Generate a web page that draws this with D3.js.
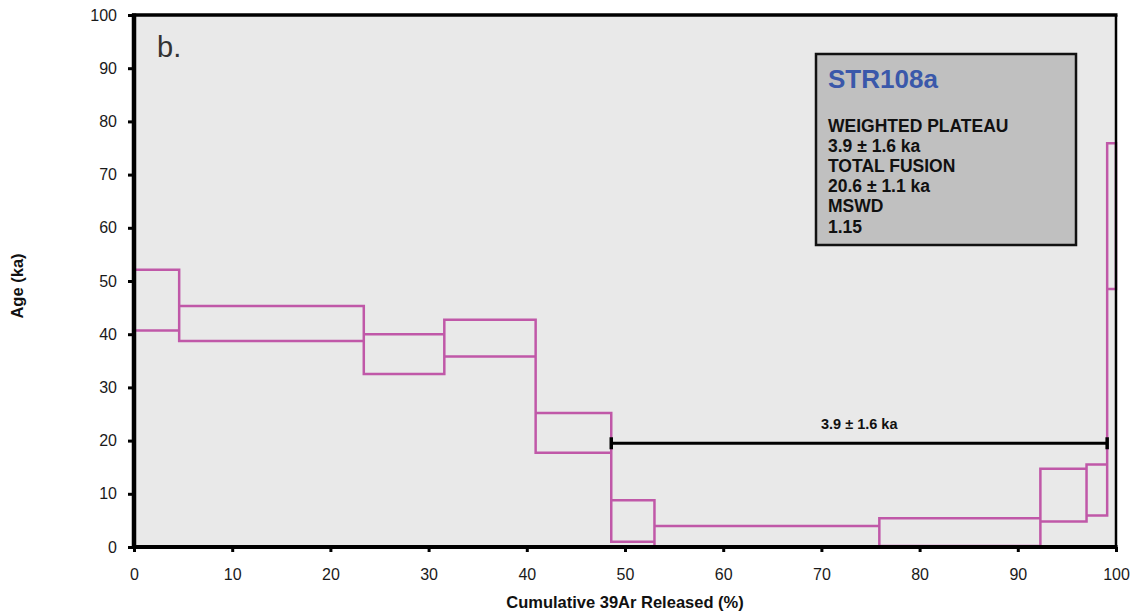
<!DOCTYPE html>
<html>
<head>
<meta charset="utf-8">
<script src="https://cdn.jsdelivr.net/npm/d3@7"></script>
<style>
  body { margin: 0; background: #fff; }
  text { font-family: "Liberation Sans", Arial, sans-serif; }
</style>
</head>
<body>
<div id="chart"></div>
<script>
// step edges (cumulative 39Ar %) and age envelope of each step (ka)
const stepEdges = [0, 4.6, 23.4, 31.6, 40.9, 48.6, 53.0, 75.9, 92.3, 97.0, 99.1, 100];
const ageHigh = [52.1, 45.3, 40.0, 42.7, 25.2, 8.8, 3.95, 5.4, 14.7, 15.5, 75.9];
const ageLow = [40.7, 38.7, 32.5, 35.8, 17.7, 1.0, -0.5, 0.2, 4.8, 5.9, 48.5];

// plateau
const plateauFrom = 48.6;
const plateauTo = 99.1;
const plateauAge = 19.5;
const plateauLabel = "3.9 ± 1.6 ka";

const xTicks = [0, 10, 20, 30, 40, 50, 60, 70, 80, 90, 100];
const yTicks = [0, 10, 20, 30, 40, 50, 60, 70, 80, 90, 100];

const legendLines = ["WEIGHTED PLATEAU", "3.9 ± 1.6 ka", "TOTAL FUSION", "20.6 ± 1.1 ka", "MSWD", "1.15"];

const width = 1132, height = 616;
const m = { left: 134, right: 16, top: 15, bottom: 69 };

const svg = d3.select('#chart').append('svg')
  .attr('width', width)
  .attr('height', height);

const x = d3.scaleLinear().domain([0, 100]).range([m.left, width - m.right]);
const y = d3.scaleLinear().domain([0, 100]).range([height - m.bottom, m.top]).clamp(true);

// fond gris
svg.append('rect')
  .attr('x', x(0)).attr('y', y(100))
  .attr('width', x(100) - x(0)).attr('height', y(0) - y(100))
  .attr('fill', '#e9e9e9');

// étapes : lignes haute/basse + verticales qui relient les étapes voisines
const steps = ageHigh.map((hi, i) => ({ x0: stepEdges[i], x1: stepEdges[i + 1], hi, lo: ageLow[i] }));
let p = d3.path();
steps.forEach(s => {
  p.moveTo(x(s.x0), y(s.hi)); p.lineTo(x(s.x1), y(s.hi));
  p.moveTo(x(s.x0), y(s.lo)); p.lineTo(x(s.x1), y(s.lo));
});
stepEdges.forEach((e, i) => {
  const near = steps.filter((s, j) => j === i - 1 || j === i);
  const top = d3.max(near, s => s.hi);
  const bot = d3.min(near, s => s.lo);
  p.moveTo(x(e), y(top)); p.lineTo(x(e), y(bot));
});
svg.append('path')
  .attr('d', p.toString())
  .attr('fill', 'none')
  .attr('stroke', '#c058a8')
  .attr('stroke-width', 2.5)
  .attr('stroke-linecap', 'square');

// barre du plateau
const pl = svg.append('g');
pl.append('line')
  .attr('x1', x(plateauFrom)).attr('x2', x(plateauTo))
  .attr('y1', y(plateauAge)).attr('y2', y(plateauAge))
  .attr('stroke', '#000').attr('stroke-width', 3);
pl.selectAll('.cap')
  .data([plateauFrom, plateauTo])
  .enter()
  .append('line')
  .attr('x1', d => x(d)).attr('x2', d => x(d))
  .attr('y1', y(plateauAge) - 6).attr('y2', y(plateauAge) + 6)
  .attr('stroke', '#000').attr('stroke-width', 3.5);
pl.append('text')
  .attr('x', (x(plateauFrom) + x(plateauTo)) / 2)
  .attr('y', y(plateauAge) - 14)
  .attr('text-anchor', 'middle')
  .attr('font-size', '14.5px')
  .attr('font-weight', 'bold')
  .attr('fill', '#111')
  .text(plateauLabel);

// axes
const yAxis = svg.append('g')
  .attr('transform', `translate(${x(0)},0)`)
  .call(d3.axisLeft(y).tickValues(yTicks).tickSize(6).tickSizeOuter(0).tickPadding(11));
const xAxis = svg.append('g')
  .attr('transform', `translate(0,${y(0)})`)
  .call(d3.axisBottom(x).tickValues(xTicks).tickSize(5).tickSizeOuter(0).tickPadding(17));
[yAxis, xAxis].forEach(a => {
  a.select('.domain').remove();
  a.selectAll('.tick line').attr('stroke', '#000').attr('stroke-width', 3);
  a.selectAll('.tick text')
    .attr('font-size', '16px')
    .attr('fill', '#1a1a1a')
    .attr('font-family', '"Liberation Sans", Arial, sans-serif');
});

// cadre
svg.append('line')
  .attr('x1', x(0) - 2).attr('x2', x(100) + 1.5)
  .attr('y1', y(100)).attr('y2', y(100))
  .attr('stroke', '#000').attr('stroke-width', 3.5);
svg.append('line')
  .attr('x1', x(100)).attr('x2', x(100))
  .attr('y1', y(100)).attr('y2', y(0))
  .attr('stroke', '#000').attr('stroke-width', 2.5);
svg.append('line')
  .attr('x1', x(0)).attr('x2', x(0))
  .attr('y1', y(100) - 1.5).attr('y2', y(0) + 2)
  .attr('stroke', '#000').attr('stroke-width', 4.5);
svg.append('line')
  .attr('x1', x(0) - 2).attr('x2', x(100) + 1.5)
  .attr('y1', y(0)).attr('y2', y(0))
  .attr('stroke', '#000').attr('stroke-width', 4);

// titres des axes
svg.append('text')
  .attr('x', (x(0) + x(100)) / 2)
  .attr('y', 608)
  .attr('text-anchor', 'middle')
  .attr('font-size', '16.5px')
  .attr('font-weight', 'bold')
  .attr('fill', '#111')
  .text('Cumulative 39Ar Released (%)');
svg.append('text')
  .attr('transform', `translate(23,${(y(0) + y(100)) / 2 + 5}) rotate(-90)`)
  .attr('text-anchor', 'middle')
  .attr('font-size', '16.5px')
  .attr('font-weight', 'bold')
  .attr('fill', '#111')
  .text('Age (ka)');

// lettre du panneau
svg.append('text')
  .attr('x', 157).attr('y', 57)
  .attr('font-size', '29px')
  .attr('fill', '#333')
  .text('b.');

// encadré
const box = svg.append('g');
box.append('rect')
  .attr('x', 816).attr('y', 54)
  .attr('width', 260).attr('height', 191)
  .attr('fill', '#c0c0c0')
  .attr('stroke', '#111')
  .attr('stroke-width', 2.5);
box.append('text')
  .attr('x', 828).attr('y', 88)
  .attr('font-size', '26px')
  .attr('font-weight', 'bold')
  .attr('fill', '#3a58aa')
  .text('STR108a');
box.selectAll('.ll')
  .data(legendLines)
  .enter()
  .append('text')
  .attr('x', 828)
  .attr('y', (d, i) => 132 + i * 20.1)
  .attr('font-size', '17.5px')
  .attr('font-weight', 'bold')
  .attr('fill', '#111')
  .text(d => d);
</script>
</body>
</html>
